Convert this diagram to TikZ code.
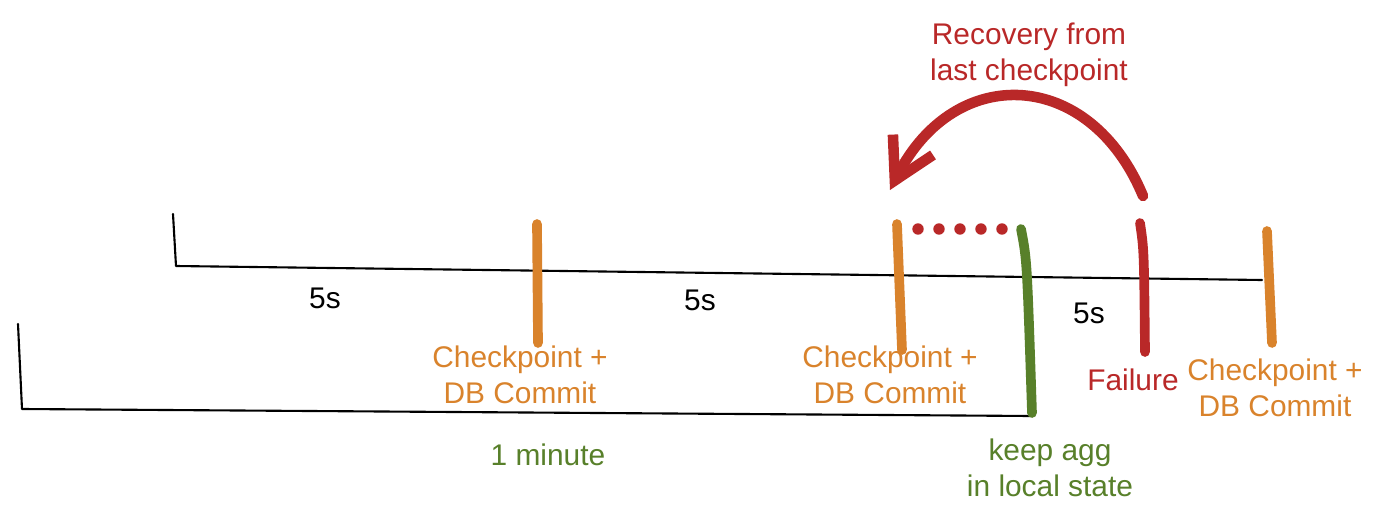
\documentclass[tikz,border=0pt]{standalone}
\usepackage{fontspec}
\setmainfont{Liberation Sans}
\usepackage{tikz}
\usetikzlibrary{arrows.meta, positioning}
\definecolor{ckorange}{RGB}{217, 131, 44}
\definecolor{failred}{RGB}{185, 40, 40}
\definecolor{stategreen}{RGB}{88, 128, 42}

\begin{document}
\begin{tikzpicture}[x=0.02cm, y=-0.02cm,
    axis/.style={draw=black, line width=1.2pt, line cap=round, line join=round},
    tickbar/.style={line width=5.5pt, line cap=round},
    lbl/.style={font=\fontsize{17}{20.5}\selectfont, align=center, inner sep=0pt}
]
    \useasboundingbox (0,0) rectangle (1400,524);

    % time axes
    \coordinate (top0) at (173,214);
    \coordinate (topL) at (176,266);
    \coordinate (topR) at (1262,280);
    \draw[axis] (top0) -- (topL) -- (topR);
    \coordinate (low0) at (18,324);
    \coordinate (lowL) at (22,409);
    \coordinate (lowR) at (1031,416);
    \draw[axis] (low0) -- (lowL) -- (lowR);

    % checkpoints, state, failure
    \coordinate (ck1t) at (537,224);  \coordinate (ck1b) at (538,343);
    \coordinate (ck2t) at (897,224);  \coordinate (ck2b) at (902,350);
    \coordinate (ck3t) at (1267,231); \coordinate (ck3b) at (1272,343);
    \coordinate (agt)  at (1021,229); \coordinate (agb)  at (1032,413);
    \coordinate (flt)  at (1140,223); \coordinate (flb)  at (1145,352);
    \draw[tickbar, ckorange] (ck1t) -- (ck1b);
    \draw[tickbar, ckorange] (ck2t) -- (ck2b);
    \draw[tickbar, ckorange] (ck3t) -- (ck3b);
    \draw[tickbar, stategreen] (agt) .. controls (1027,260) .. (agb);
    \draw[tickbar, failred] (flt) .. controls (1144,250) .. (flb);

    % waiting state
    \coordinate (dotS) at (918,229);
    \coordinate (dotE) at (1010,229);
    \draw[failred, line width=6.5pt, line cap=round, dash pattern=on 0pt off 0.42cm] (dotS) -- (dotE);

    % recovery jump
    \coordinate (arcS) at (1143,196);
    \coordinate (arcE) at (890,190);
    \draw[failred, line width=6pt, line cap=round, line join=round,
          -{Straight Barb[length=8mm, width=9mm]}]
        (arcS) .. controls (1090,68) and (955,62) .. (arcE);

    % labels
    \node[lbl] (t1) at (325,298) {5s};
    \node[lbl] (t2) at (700,300) {5s};
    \node[lbl] (t3) at (1089,313) {5s};
    \node[lbl, text=ckorange] (ck1) at (520,375) {Checkpoint +\\DB Commit};
    \node[lbl, text=ckorange] (ck2) at (890,375) {Checkpoint +\\DB Commit};
    \node[lbl, text=ckorange] (ck3) at (1275,388) {Checkpoint +\\DB Commit};
    \node[lbl, text=failred] (fl) at (1133,380) {Failure};
    \node[lbl, text=failred] (recov) at (1029,55) {Recovery from\\last checkpoint};
    \node[lbl, text=stategreen] (win) at (548,455) {1 minute};
    \node[lbl, text=stategreen] (agg) at (1050,468) {keep agg\\in local state};
\end{tikzpicture}
\end{document}
